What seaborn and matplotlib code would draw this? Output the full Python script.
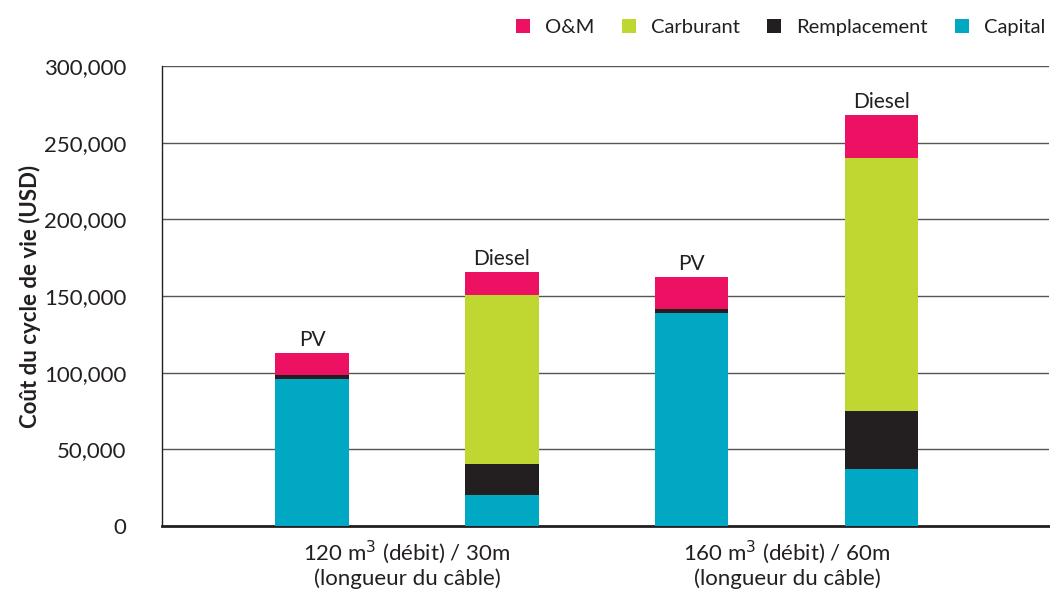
import matplotlib
matplotlib.use("Agg")
import matplotlib.pyplot as plt
from matplotlib.patches import Patch
from matplotlib.ticker import FuncFormatter
import seaborn as sns
import pandas as pd
import numpy as np

# ---- data ----
bars = ["120 PV", "120 Diesel", "160 PV", "160 Diesel"]
systems = ["PV", "Diesel", "PV", "Diesel"]
capital = [96000, 20000, 139000, 37000]
remplacement = [2500, 20500, 2500, 38000]
carburant = [0, 110000, 0, 165000]
om = [14500, 15000, 21000, 28000]
group_labels = ["120 m$^3$ (débit) / 30m\n(longueur du câble)",
                "160 m$^3$ (débit) / 60m\n(longueur du câble)"]
yticks = [0, 50000, 100000, 150000, 200000, 250000, 300000]

layers = ["Capital", "Remplacement", "Carburant", "O&M"]
colors = {"O&M": "#ED1164", "Carburant": "#BFD730",
          "Remplacement": "#231F20", "Capital": "#00A8C4"}

df = pd.DataFrame({"bar": bars, "system": systems, "Capital": capital,
                   "Remplacement": remplacement, "Carburant": carburant, "O&M": om})
cum = df[layers].cumsum(axis=1)

sns.set_theme(style="white")
plt.rcParams["font.family"] = ["Lato", "DejaVu Sans"]
txt = "#231F20"

fig = plt.figure(figsize=(10.5, 5.91), dpi=100)
ax = fig.add_axes([162/1050, 65/591, (1049-162)/1050, (526-66)/591])

for layer in reversed(layers):
    sns.barplot(x=df["bar"], y=cum[layer], order=bars, color=colors[layer],
                width=0.385, saturation=1, ax=ax, zorder=3, linewidth=0)

totals = cum["O&M"].values
for i, (s, t) in enumerate(zip(systems, totals)):
    ax.annotate(s, (i, t), xytext=(0, 2), textcoords="offset points",
                ha="center", va="bottom", fontsize=15, color=txt)

ax.set_xlim(-0.79, 3.88)
ax.set_ylim(0, 300000)
ax.set_yticks(yticks)
ax.yaxis.set_major_formatter(FuncFormatter(lambda v, p: f"{int(v):,}"))
ax.set_xticks([0.5, 2.5])
ax.set_xticklabels(group_labels, fontsize=16, color=txt, linespacing=1.15)
ax.tick_params(axis="x", length=0, pad=9)
ax.tick_params(axis="y", direction="inout", length=11, width=1, color=txt,
               labelsize=16, labelcolor=txt, pad=20)
ax.set_xlabel("")
ax.set_ylabel("Coût du cycle de vie (USD)", fontsize=16, fontweight="bold",
              color=txt, labelpad=2)
ax.yaxis.grid(True, color="#555555", linewidth=1.0, zorder=0)
ax.set_axisbelow(True)
for side in ["top", "right"]:
    ax.spines[side].set_visible(False)
ax.spines["left"].set_color(txt)
ax.spines["left"].set_linewidth(1.0)
ax.spines["bottom"].set_color(txt)
ax.spines["bottom"].set_linewidth(2.0)

handles = [Patch(facecolor=colors[k], edgecolor="none", label=k)
           for k in ["O&M", "Carburant", "Remplacement", "Capital"]]
fig.legend(handles=handles, loc="upper right", bbox_to_anchor=(1.013, 0.999),
           ncol=4, frameon=False, fontsize=14.5, handlelength=0.7,
           handleheight=0.7, handletextpad=0.75, columnspacing=1.35,
           labelcolor=txt)

fig.savefig("out.png", dpi=100)
